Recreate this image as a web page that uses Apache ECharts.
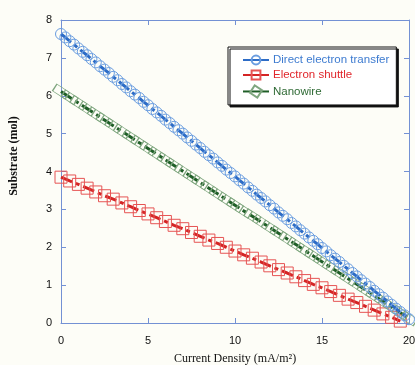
<!DOCTYPE html>
<html><head><meta charset="utf-8">
<script src="https://cdn.jsdelivr.net/npm/echarts@6/dist/echarts.min.js"></script>
<style>html,body{margin:0;padding:0;background:#fdfdf7}#c{width:415px;height:365px}</style>
</head><body><div id="c"></div>
<script>
const seriesNames = ['Direct electron transfer', 'Electron shuttle', 'Nanowire'];
const xTicks = [0, 5, 10, 15, 20];
const yTicks = [0, 1, 2, 3, 4, 5, 6, 7, 8];

const directX = [0,0.25,0.5,0.75,1,1.25,1.5,1.75,2,2.25,2.5,2.75,3,3.25,3.5,3.75,4,4.25,4.5,4.75,5,5.25,5.5,5.75,6,6.25,6.5,6.75,7,7.25,7.5,7.75,8,8.25,8.5,8.75,9,9.25,9.5,9.75,10,10.25,10.5,10.75,11,11.25,11.5,11.75,12,12.25,12.5,12.75,13,13.25,13.5,13.75,14,14.25,14.5,14.75,15,15.25,15.5,15.75,16,16.25,16.5,16.75,17,17.25,17.5,17.75,18,18.25,18.5,18.75,19,19.25,19.5,19.75,20];
const directY = [7.63,7.54,7.44,7.35,7.25,7.16,7.07,6.97,6.88,6.78,6.69,6.60,6.50,6.41,6.31,6.22,6.12,6.03,5.94,5.84,5.75,5.65,5.56,5.47,5.37,5.28,5.18,5.09,5.00,4.90,4.81,4.71,4.62,4.52,4.43,4.34,4.24,4.15,4.05,3.96,3.87,3.77,3.68,3.58,3.49,3.39,3.30,3.21,3.11,3.02,2.92,2.83,2.74,2.64,2.55,2.45,2.36,2.26,2.17,2.08,1.98,1.89,1.79,1.70,1.61,1.51,1.42,1.32,1.23,1.13,1.04,0.95,0.85,0.76,0.67,0.57,0.48,0.38,0.29,0.20,0.10];

const shuttleX = [0,0.5,1,1.5,2,2.5,3,3.5,4,4.5,5,5.5,6,6.5,7,7.5,8,8.5,9,9.5,10,10.5,11,11.5,12,12.5,13,13.5,14,14.5,15,15.5,16,16.5,17,17.5,18,18.5,19,19.5];
const shuttleY = [3.85,3.75,3.66,3.56,3.46,3.36,3.27,3.17,3.07,2.97,2.88,2.78,2.68,2.58,2.49,2.39,2.29,2.19,2.10,2.00,1.90,1.80,1.71,1.61,1.51,1.41,1.32,1.22,1.12,1.02,0.93,0.83,0.73,0.63,0.54,0.44,0.34,0.24,0.15,0.05];

const nanowireX = [0,0.5,1,1.5,2,2.5,3,3.5,4,4.5,5,5.5,6,6.5,7,7.5,8,8.5,9,9.5,10,10.5,11,11.5,12,12.5,13,13.5,14,14.5,15,15.5,16,16.5,17,17.5,18,18.5,19,19.5,20];
const nanowireY = [6.11,5.96,5.81,5.66,5.51,5.36,5.21,5.06,4.91,4.76,4.61,4.46,4.31,4.16,4.01,3.86,3.71,3.56,3.41,3.26,3.11,2.96,2.82,2.67,2.52,2.37,2.22,2.07,1.92,1.77,1.62,1.47,1.32,1.17,1.02,0.87,0.72,0.57,0.42,0.27,0.12];

const pair = (xs, ys) => xs.map((x, i) => [x, ys[i]]);
const axisCol = '#7391d4';
const chart = echarts.init(document.getElementById('c'));

function axisCommon(show) {
  return {
    axisLine: { show: true, onZero: false, lineStyle: { color: axisCol, width: 1 } },
    axisTick: { show: true, inside: true, length: 5, lineStyle: { color: axisCol } },
    axisLabel: { show: show, color: '#111', fontFamily: 'Liberation Sans, Arial', fontSize: 11 },
    splitLine: { show: false }
  };
}

chart.setOption({
  backgroundColor: '#fdfdf7',
  animation: false,
  grid: { left: 61, right: 6, top: 20, bottom: 42, containLabel: false, outerBoundsMode: 'none' },
  xAxis: [
    Object.assign({ type: 'value', min: xTicks[0], max: xTicks[xTicks.length - 1], interval: 5, position: 'bottom',
      name: 'Current Density (mA/m²)', nameLocation: 'middle', nameGap: 30,
      nameTextStyle: { fontFamily: 'Liberation Serif, Times New Roman', fontSize: 12, color: '#111' } }, axisCommon(true),
      { axisLabel: { color: '#111', fontFamily: 'Liberation Sans, Arial', fontSize: 11, margin: 12 } }),
    Object.assign({ type: 'value', min: 0, max: 20, interval: 5, position: 'top' }, axisCommon(false))
  ],
  yAxis: [
    Object.assign({ type: 'value', min: yTicks[0], max: yTicks[yTicks.length - 1], interval: 1, position: 'left' }, axisCommon(true),
      { axisLabel: { color: '#111', fontFamily: 'Liberation Sans, Arial', fontSize: 11, margin: 9 } }),
    Object.assign({ type: 'value', min: 0, max: 8, interval: 1, position: 'right' }, axisCommon(false))
  ],
  graphic: [{
    type: 'text', x: 14, y: 156, rotation: Math.PI / 2,
    style: { text: 'Substrate (mol)', font: 'bold 12px "Liberation Serif", "Times New Roman", serif', fill: '#111', align: 'center', verticalAlign: 'middle' }
  }],
  legend: {
    left: 228, top: 47, orient: 'vertical',
    backgroundColor: '#ffffff', borderColor: '#111', borderWidth: 1,
    shadowColor: '#111', shadowOffsetX: 2, shadowOffsetY: 2, shadowBlur: 0,
    padding: [7, 7, 6, 14], itemGap: 3, itemWidth: 26, itemHeight: 11,
    lineStyle: { type: 'solid', width: 2 },
    textStyle: { fontFamily: 'Liberation Sans, Arial', fontSize: 11.5, padding: [0, 0, 0, -1] },
    data: [
      { name: seriesNames[0], textStyle: { color: '#3d7bd0' } },
      { name: seriesNames[1], textStyle: { color: '#e0262b' } },
      { name: seriesNames[2], textStyle: { color: '#2f6a35' } }
    ]
  },
  series: [
    {
      name: seriesNames[0], type: 'line', data: pair(directX, directY),
      symbol: 'circle', symbolSize: 11, z: 3,
      lineStyle: { color: '#2d6cc6', width: 3, type: [13, 4, 4, 4] },
      itemStyle: { color: 'rgba(0,0,0,0)', borderColor: '#6a9de0', borderWidth: 1 }
    },
    {
      name: seriesNames[1], type: 'line', data: pair(shuttleX, shuttleY),
      symbol: 'rect', symbolSize: 12, z: 2,
      lineStyle: { color: '#d42424', width: 3, type: [12, 4, 4, 4] },
      itemStyle: { color: 'rgba(0,0,0,0)', borderColor: '#e65454', borderWidth: 1 }
    },
    {
      name: seriesNames[2], type: 'line', data: pair(nanowireX, nanowireY),
      symbol: 'rect', symbolSize: [15, 8], symbolRotate: -33, z: 2,
      lineStyle: { color: '#1f5e27', width: 3, type: [13, 4, 4, 4] },
      itemStyle: { color: 'rgba(0,0,0,0)', borderColor: '#7fa67f', borderWidth: 1 }
    }
  ]
});
</script></body></html>
